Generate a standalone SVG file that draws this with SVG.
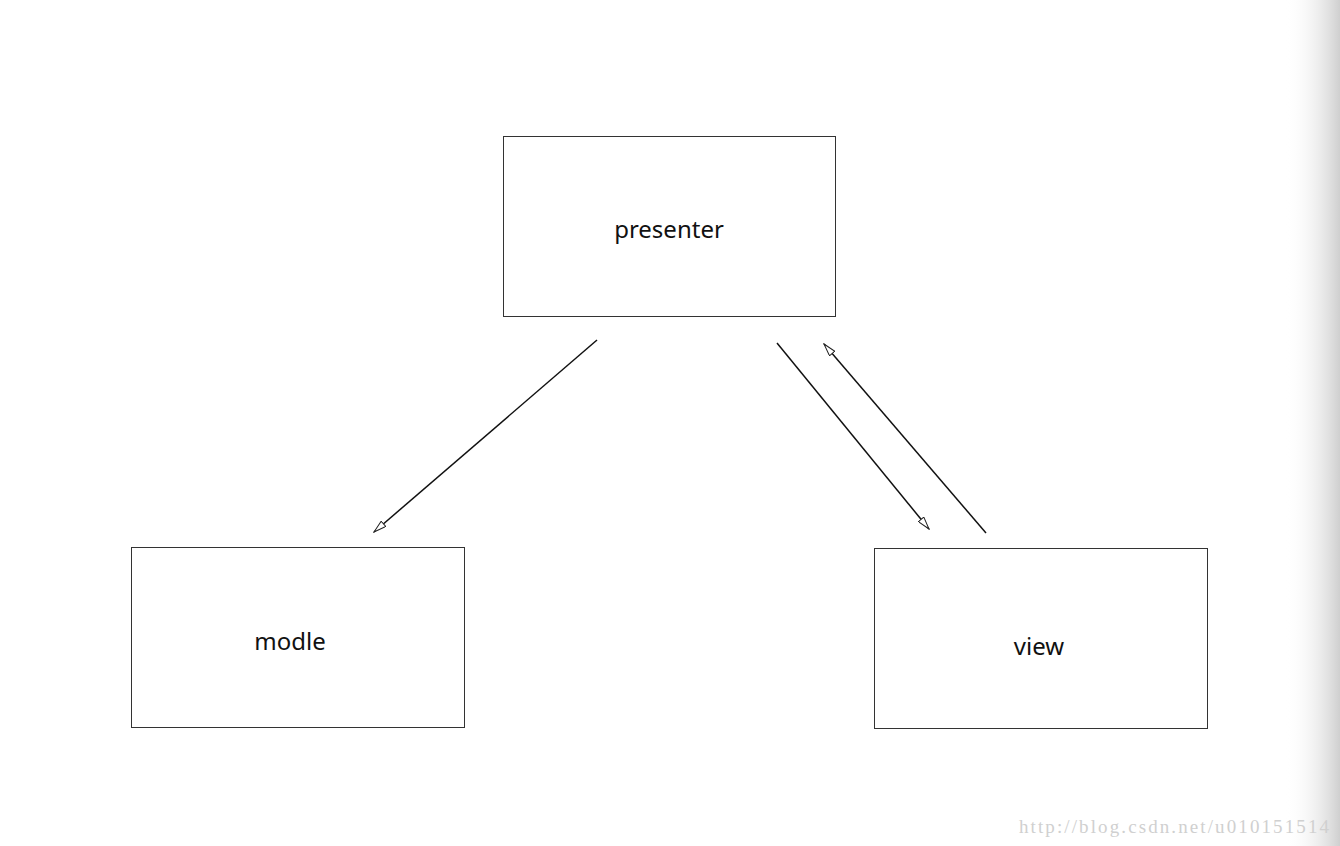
<svg xmlns="http://www.w3.org/2000/svg" width="1340" height="846" viewBox="0 0 1340 846">
<style>
.box{fill:#fff;stroke:#333;stroke-width:1}
.lbl{font-family:"Noto Sans","Liberation Sans",sans-serif;font-size:24px;fill:#111;text-anchor:middle}
.con{stroke:#111;stroke-width:1.5;fill:none;marker-end:url(#ah)}
.wm{font-family:"Liberation Serif",serif;font-size:19px;fill:#d0d0d0}
</style>
<defs>
<marker id="ah" viewBox="0 0 14 8" refX="13" refY="4" markerWidth="14" markerHeight="8" markerUnits="userSpaceOnUse" orient="auto">
<path d="M0.5,0.5 L13,4 L0.5,7.5 Z" fill="#fff" stroke="#222" stroke-width="1"/>
</marker>
<linearGradient id="edge" x1="0" y1="0" x2="1" y2="0">
<stop offset="0" stop-color="#fff" stop-opacity="0"/>
<stop offset="1" stop-color="#cfcfcf"/>
</linearGradient>
</defs>
<rect width="1340" height="846" fill="#fff"/>
<rect x="1285" y="0" width="55" height="846" fill="url(#edge)"/>
<g id="presenter"><rect class="box" x="503.5" y="136.5" width="332" height="180"/><text class="lbl" x="669" y="238">presenter</text></g>
<g id="modle"><rect class="box" x="131.5" y="547.5" width="333" height="180"/><text class="lbl" x="290" y="650">modle</text></g>
<g id="view"><rect class="box" x="874.5" y="548.5" width="333" height="180"/><text class="lbl" x="1039" y="655">view</text></g>
<g id="connectors">
<line class="con" x1="597" y1="340" x2="374" y2="532"/>
<line class="con" x1="777" y1="343" x2="929" y2="529"/>
<line class="con" x1="986" y1="533" x2="824" y2="344"/>
</g>
<text class="wm" x="1019" y="833" textLength="310" lengthAdjust="spacing">http://blog.csdn.net/u010151514</text>
</svg>
